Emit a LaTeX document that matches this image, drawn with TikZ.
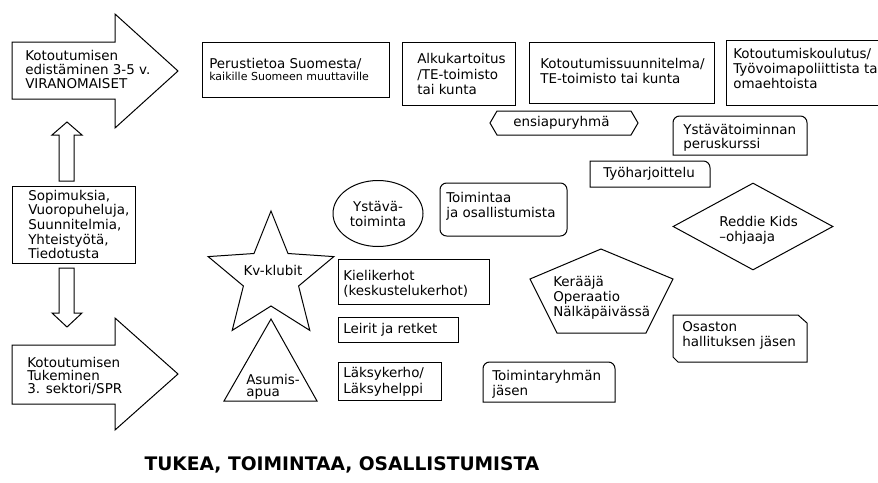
\documentclass[tikz,border=0pt]{standalone}
\usepackage{fontspec}
\setmainfont{DejaVu Sans}
\usetikzlibrary{shapes.geometric}
\newcommand\fsz[1]{\fontsize{10.1pt}{#1pt}\selectfont}
\newcommand\bxn[6]{\node[rbox, minimum width={(#4-#2)*0.75pt}, minimum height={(#5-#3)*0.75pt}, #6] (#1) at (#2,#3) {};}
\begin{document}
\begin{tikzpicture}[x=0.75pt,y=-0.75pt,
  shp/.style={draw=black, line width=0.75pt, line join=miter},
  rbox/.style={shp, rectangle, inner sep=0pt, outer sep=0pt, anchor=north west},
  txt/.style={anchor=west, align=left, inner sep=0pt, text=black},
]
\useasboundingbox (0,0) rectangle (878,482);
\clip (0,0) rectangle (878,482);

% ---- left column: block arrows and agreement box
\draw[shp] (12,42) -- (115,42) -- (115,14) -- (178,71) -- (115,128) -- (115,99) -- (12,99) -- cycle;
\node[txt, font=\fsz{10.5}] (viranom) at (25,69) {Kotoutumisen\\edistäminen 3-5 v.\\VIRANOMAISET};

\draw[shp] (12,345) -- (115,345) -- (115,318) -- (178,374) -- (115,430) -- (115,404) -- (12,404) -- cycle;
\node[txt, font=\fsz{9.9}] (sektori) at (27,376) {Kotoutumisen\\Tukeminen\\3. sektori/SPR};

\bxn{sopbox}{12}{186}{135}{263}{}
\node[txt, font=\fsz{10.9}] (sop) at (28,224.5) {Sopimuksia,\\Vuoropuheluja,\\Suunnitelmia,\\Yhteistyötä,\\Tiedotusta};

\draw[shp] (59,181) -- (59,135) -- (52,135) -- (67,122) -- (82,135) -- (74,135) -- (74,181) -- cycle;
\draw[shp] (59,268) -- (74,268) -- (74,313) -- (82,313) -- (67,327) -- (52,313) -- (59,313) -- cycle;

% ---- top row of boxes
\bxn{perbox}{202}{42}{389}{97}{}
\node[txt, font=\fsz{9}] (per) at (209,69) {Perustietoa Suomesta/\\{\fontsize{8.25pt}{9pt}\selectfont kaikille Suomeen muuttaville}};

\bxn{alkbox}{402}{42}{515}{105}{}
\node[txt, font=\fsz{11.6}] (alk) at (417,74) {Alkukartoitus\\/TE-toimisto\\tai kunta};

\bxn{ksubox}{529}{42}{714}{103}{}
\node[txt, font=\fsz{11.25}] (ksu) at (540,70.5) {Kotoutumissuunnitelma/\\TE-toimisto tai kunta};

\bxn{kkobox}{726}{40}{910}{105}{}
\node[txt, font=\fsz{11.25}] (kko) at (733,68) {Kotoutumiskoulutus/\\Työvoimapoliittista tai\\omaehtoista};

% ---- ensiapuryhmä
\draw[shp] (490,123) -- (497,111) -- (631,111) -- (638,123) -- (631,135) -- (497,135) -- cycle;
\node[txt, font=\fsz{11}] (ens) at (513,123) {ensiapuryhmä};

% ---- Ystävätoiminnan peruskurssi (rounded top corners)
\draw[shp] (673,155) [rounded corners=5pt] -- (673,116) -- (807,116) [sharp corners] -- (807,155) -- cycle;
\node[txt, font=\fsz{10.5}] (yst) at (683,138) {Ystävätoiminnan\\peruskurssi};

% ---- Työharjoittelu (rounded top-right corner)
\draw[shp] (590,187) -- (590,161) [rounded corners=5pt] -- (710,161) [sharp corners] -- (710,187) -- cycle;
\node[txt, font=\fsz{11}] (tyo) at (603,174) {Työharjoittelu};

% ---- Toimintaa ja osallistumista
\bxn{toibox}{440}{183}{567}{236}{rounded corners=5pt}
\node[txt, font=\fsz{11.25}] (toi) at (446,206) {Toimintaa\\ja osallistumista};

% ---- Ystävätoiminta ellipse
\node[shp, ellipse, inner sep=0pt, minimum width=90*0.75pt, minimum height=66*0.75pt, align=center, font=\fsz{11.25}] (ell) at (378,213.5) {Ystävä-\\toiminta};

% ---- Kv-klubit star
\draw[shp] (271,211) -- (288,253.5) -- (333.8,256.6) -- (298.6,286) -- (309.8,330.4) -- (271,306) -- (232.2,330.4) -- (243.4,286) -- (208.2,256.6) -- (254,253.5) -- cycle;
\node[font=\fsz{11}, inner sep=0pt] (kv) at (273,270) {Kv-klubit};

% ---- Asumisapua triangle
\draw[shp] (271,319) -- (317,401) -- (224,401) -- cycle;
\node[txt, font=\fsz{9}] (asu) at (246,387) {Asumis-\\apua};

% ---- middle column boxes
\bxn{kiebox}{338}{259}{489}{304}{}
\node[txt, font=\fsz{11.25}] (kie) at (343,283.5) {Kielikerhot\\(keskustelukerhot)};

\bxn{leibox}{338}{317}{458}{342}{}
\node[txt, font=\fsz{11}] (lei) at (343,330) {Leirit ja retket};

\bxn{lakbox}{338}{362}{441}{400}{}
\node[txt, font=\fsz{12}] (lak) at (343,382) {Läksykerho/\\Läksyhelppi};

\draw[shp] (483,402) [rounded corners=5pt] -- (483,362) -- (615,362) [sharp corners] -- (615,402) -- cycle;
\node[txt, font=\fsz{11.25}] (tgr) at (492,384.5) {Toimintaryhmän\\jäsen};

% ---- pentagon
\draw[shp] (601,249) -- (673,279) -- (646,333) -- (557,333) -- (530,279) -- cycle;
\node[txt, font=\fsz{11.25}] (ker) at (553,298) {Kerääjä\\Operaatio\\Nälkäpäivässä};

% ---- diamond
\node[shp, diamond, inner sep=0pt, minimum width=160*0.75pt, minimum height=87*0.75pt] (dia) at (753,226.5) {};
\node[txt, font=\fsz{11.25}] (red) at (719,230.5) {Reddie Kids\\–ohjaaja};

% ---- Osaston hallituksen jäsen (snipped corners)
\draw[shp] (673,315) -- (798,315) -- (807,323) -- (807,362) -- (678,362) -- (673,357) -- cycle;
\node[txt, font=\fsz{11.25}] (osa) at (682,335.5) {Osaston\\hallituksen jäsen};

% ---- title
\node[font=\bfseries\fontsize{14pt}{16pt}\selectfont, inner sep=0pt] (title) at (342,465) {TUKEA, TOIMINTAA, OSALLISTUMISTA};
\end{tikzpicture}
\end{document}
